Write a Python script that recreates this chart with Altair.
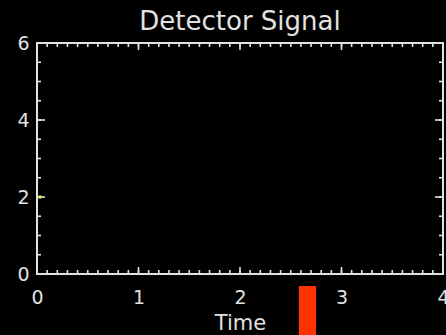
import altair as alt
import pandas as pd
import numpy as np

# ---- data ----
chart_title = ["Detector Signal"]
signal_time = [0.03]
signal_value = [2.0]

marker_start = [2.58]
marker_end = [2.75]

x_major = [0, 1, 2, 3, 4]
y_major = [0, 2, 4, 6]
x_minor = [round(v, 2) for v in np.arange(0, 4.0001, 0.1)]
y_minor = [round(v, 2) for v in np.arange(0, 6.0001, 0.5)]

W, H = 406, 231
FG = "#e2e2e2"
FONT = "DejaVu Sans"

xs = alt.Scale(domain=[0, 4], nice=False, zero=False)
ys = alt.Scale(domain=[0, 6], nice=False, zero=False)

sig_df = pd.DataFrame({"t": signal_time, "v": signal_value})
mark_df = pd.DataFrame({"a": marker_start, "b": marker_end})
xmin_df = pd.DataFrame({"t": x_minor})
xmaj_df = pd.DataFrame({"t": x_major})
ymin_df = pd.DataFrame({"v": y_minor})
ymaj_df = pd.DataFrame({"v": y_major})
title_df = pd.DataFrame({"label": chart_title})

# base layer carrying the axes
base = alt.Chart(xmaj_df).mark_point(opacity=0).encode(
    x=alt.X("t:Q", scale=xs, title="Time",
            axis=alt.Axis(values=x_major, ticks=False, domain=False, grid=False,
                          labelFontSize=19, labelColor=FG, labelFont=FONT,
                          labelBaseline="middle", labelPadding=23, labelFlush=False,
                          titleFontSize=21, titleColor=FG, titleFont=FONT,
                          titleFontWeight="normal", titlePadding=5, format="d")),
    y=alt.Y("v:Q", scale=ys, title=None,
            axis=alt.Axis(values=y_major, ticks=False, domain=False, grid=False,
                          labelFontSize=19, labelColor=FG, labelFont=FONT,
                          labelPadding=8, labelFlush=False, format="d")),
    )

def rule(df, **enc):
    return alt.Chart(df).mark_rule(color=FG, strokeWidth=1.6).encode(**enc)

ticks = [
    rule(xmin_df, x=alt.X("t:Q", scale=xs), y=alt.value(H), y2=alt.value(H - 4)),
    rule(xmaj_df, x=alt.X("t:Q", scale=xs), y=alt.value(H), y2=alt.value(H - 7)),
    rule(xmin_df, x=alt.X("t:Q", scale=xs), y=alt.value(0), y2=alt.value(4)),
    rule(xmaj_df, x=alt.X("t:Q", scale=xs), y=alt.value(0), y2=alt.value(7)),
    rule(ymin_df, y=alt.Y("v:Q", scale=ys), x=alt.value(0), x2=alt.value(4)),
    rule(ymaj_df, y=alt.Y("v:Q", scale=ys), x=alt.value(0), x2=alt.value(8)),
    rule(ymin_df, y=alt.Y("v:Q", scale=ys), x=alt.value(W), x2=alt.value(W - 4)),
    rule(ymaj_df, y=alt.Y("v:Q", scale=ys), x=alt.value(W), x2=alt.value(W - 8)),
]

signal = alt.Chart(sig_df).mark_circle(color="#d6e84a", size=14, opacity=1).encode(
    x=alt.X("t:Q", scale=xs), y=alt.Y("v:Q", scale=ys))

marker = alt.Chart(mark_df).mark_rect(color="#ff3300", clip=False).encode(
    x=alt.X("a:Q", scale=xs), x2="b:Q",
    y=alt.value(H + 12), y2=alt.value(H + 62))

title = alt.Chart(title_df).mark_text(
    fontSize=26, color=FG, font=FONT, baseline="alphabetic", align="center",
    clip=False).encode(text="label:N", x=alt.value(W / 2), y=alt.value(-13))

chart = alt.layer(base, *ticks, signal, marker, title).properties(
    width=W, height=H,
    background="black",
    padding={"left": 37, "top": 43, "right": 3, "bottom": 61},
    autosize=alt.AutoSizeParams(type="none"),
).configure_view(stroke=FG, strokeWidth=2)

chart.save("out.html", embed_options={"renderer": "svg", "actions": False})
